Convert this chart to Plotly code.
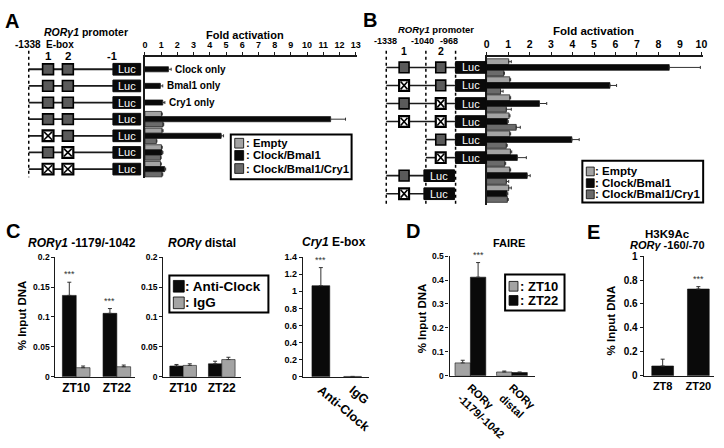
import plotly.graph_objects as go

W, H = 724, 448
FONT = "Liberation Sans, Arial, sans-serif"

# ---------------- data ----------------
# Panel A (fold activation, RORg1 promoter -1338/-1)
a_rows = ["Clock only", "Bmal1 only", "Cry1 only", "WT", "mutE1", "mutE2", "mutE1E2"]
a_only_labels = ["Clock only", "Bmal1 only", "Cry1 only"]
a_empty = [None, None, None, 1.02, 1.06, 1.02, 0.96]
a_empty_err = [0, 0, 0, 0.05, 0.06, 0.05, 0.05]
a_cb = [1.45, 0.95, 1.10, 11.45, 4.70, 1.06, 1.22]
a_cb_err = [0.17, 0.15, 0.13, 0.92, 0.15, 0.05, 0.06]
a_cbc = [None, None, None, 1.12, 0.71, 0.96, 1.06]
a_cbc_err = [0, 0, 0, 0.04, 0.03, 0.04, 0.04]
a_ebox1 = ["w", "w", "w", "w", "m", "w", "m"]
a_ebox2 = ["w", "w", "w", "w", "w", "m", "m"]

# Panel B (fold activation, deletion constructs)
b_rows = ["r1", "r2", "r3", "r4", "r5", "r6", "r7", "r8"]
b_empty = [1.03, 1.08, 1.08, 1.05, 1.08, 1.11, 1.08, 1.03]
b_empty_err = [0.12, 0.04, 0.04, 0.04, 0.04, 0.06, 0.04, 0.12]
b_cb = [8.50, 5.74, 2.46, 0.97, 3.97, 1.43, 1.89, 0.95]
b_cb_err = [1.45, 0.31, 0.34, 0.04, 0.34, 0.42, 0.14, 0.04]
b_cbc = [0.80, 0.65, 0.92, 1.38, 0.92, 0.85, 0.92, 0.97]
b_cbc_err = [0.03, 0.12, 0.23, 0.19, 0.04, 0.04, 0.11, 0.04]
b_ebox1 = ["w", "m", "w", "m", None, None, "w", "m"]
b_ebox2 = ["w", "w", "m", "m", "w", "m", None, None]
b_start = ["-1338", "-1338", "-1338", "-1338", "-1040", "-1040", "-1338", "-1338"]
b_luc_short = [False, False, False, False, False, False, True, True]

# Panel C (ChIP, % input DNA)
c_groups = ["ZT10", "ZT22"]
c1_anti = [0.136, 0.106]
c1_anti_err = [0.022, 0.008]
c1_igg = [0.0152, 0.0168]
c1_igg_err = [0.0028, 0.0028]
c1_sig = ["***", "***"]
c2_anti = [0.018, 0.0217]
c2_anti_err = [0.0026, 0.0043]
c2_igg = [0.019, 0.0288]
c2_igg_err = [0.0027, 0.0038]
c3_cats = ["Anti-Clock", "IgG"]
c3_vals = [1.065, 0.004]
c3_err = [0.212, 0.0]

# Panel D (FAIRE)
d_cats = ["RORγ<br>-1179/-1042", "RORγ<br>distal"]
d_zt10 = [0.054, 0.016]
d_zt10_err = [0.011, 0.004]
d_zt22 = [0.412, 0.0135]
d_zt22_err = [0.061, 0.0025]

# Panel E (H3K9Ac)
e_cats = ["ZT8", "ZT20"]
e_vals = [0.082, 0.725]
e_err = [0.057, 0.02]

# ---------------- styles ----------------
C_EMPTY = "#a3a3a3"
C_CB = "#0a0a0a"
C_CBC = "#6b6b6b"
C_IGG = "#a3a3a3"
BOX_FILL = "#5a5a5a"
AX = "#1a1a1a"


def X(p):
    return p / W


def Y(p):
    return 1 - p / H


fig = go.Figure()


def hbar(vals, errs, rows, color, width, offset, xa, ya):
    fig.add_trace(go.Bar(
        x=vals, y=rows, orientation="h", xaxis=xa, yaxis=ya,
        width=width, offset=offset,
        marker=dict(color=color, line=dict(color="#111", width=0.7)),
        error_x=dict(type="data", array=errs, arrayminus=[0] * len(errs),
                     symmetric=False, color="#333", thickness=1, width=1.5),
        showlegend=False, hoverinfo="skip"))


def vbar(cats, vals, errs, color, width, offset, n):
    fig.add_trace(go.Bar(
        x=cats, y=vals, xaxis=f"x{n}", yaxis=f"y{n}",
        width=width, offset=offset,
        marker=dict(color=color, line=dict(color="#111", width=0.6)),
        error_y=dict(type="data", array=errs, arrayminus=[0] * len(errs),
                     symmetric=False, color="#333", thickness=1, width=2),
        showlegend=False, hoverinfo="skip"))


# Panel A bars
A_W = 0.31
hbar(a_empty, a_empty_err, a_rows, C_EMPTY, A_W, -0.465, "x", "y")
hbar(a_cb, a_cb_err, a_rows, C_CB, A_W, -0.155, "x", "y")
hbar(a_cbc, a_cbc_err, a_rows, C_CBC, A_W, 0.155, "x", "y")

# Panel B bars
B_W = 0.32
hbar(b_empty, b_empty_err, b_rows, C_EMPTY, B_W, -0.48, "x2", "y2")
hbar(b_cb, b_cb_err, b_rows, C_CB, B_W, -0.16, "x2", "y2")
hbar(b_cbc, b_cbc_err, b_rows, C_CBC, B_W, 0.16, "x2", "y2")

# Panel C bars
C1_W = 0.34
vbar(c_groups, c1_anti, c1_anti_err, C_CB, C1_W, -C1_W, 3)
vbar(c_groups, c1_igg, c1_igg_err, C_IGG, C1_W, 0, 3)
C2_W = 0.345
vbar(c_groups, c2_anti, c2_anti_err, C_CB, C2_W, -C2_W, 4)
vbar(c_groups, c2_igg, c2_igg_err, C_IGG, C2_W, 0, 4)
C3_W = 0.56
vbar(c3_cats, c3_vals, c3_err, C_CB, C3_W, -C3_W / 2, 5)
# Panel D bars
D_W = 0.37
vbar(d_cats, d_zt10, d_zt10_err, C_IGG, D_W, -D_W, 6)
vbar(d_cats, d_zt22, d_zt22_err, C_CB, D_W, 0, 6)
# Panel E bars
E_W = 0.61
vbar(e_cats, e_vals, e_err, C_CB, E_W, -E_W / 2, 7)


def tf(size):
    return dict(family=FONT, size=size, color="black", weight="bold")


layout = dict(
    width=W, height=H, margin=dict(l=0, r=0, t=0, b=0),
    paper_bgcolor="white", plot_bgcolor="rgba(0,0,0,0)",
    barmode="overlay", showlegend=False, font=dict(family=FONT),
)

# Panel A axes
A_TOP, A_BOT, A_R = 52, 177, [6.55, -0.76]
layout["xaxis"] = dict(domain=[X(143.3), X(357)], range=[0, 13.05], side="top", anchor="y",
                       tick0=0, dtick=1, ticks="outside", ticklen=3, tickcolor=AX,
                       showline=True, linecolor=AX, linewidth=1.5, showgrid=False,
                       zeroline=False, tickfont=tf(9))
layout["yaxis"] = dict(domain=[Y(A_BOT), Y(A_TOP)], range=A_R, type="category",
                       categoryorder="array", categoryarray=a_rows, anchor="x",
                       showline=True, linecolor=AX, linewidth=1.5, showticklabels=False,
                       ticks="", showgrid=False, zeroline=False)
# Panel B axes
B_TOP, B_BOT, B_R = 52, 204, [7.6, -0.6]
layout["xaxis2"] = dict(domain=[X(488.3), X(707)], range=[0, 10.08], side="top", anchor="y2",
                        tick0=0, dtick=1, ticks="outside", ticklen=3, tickcolor=AX,
                        showline=True, linecolor=AX, linewidth=1.5, showgrid=False,
                        zeroline=False, tickfont=tf(10.5))
layout["yaxis2"] = dict(domain=[Y(B_BOT), Y(B_TOP)], range=B_R, type="category",
                        categoryorder="array", categoryarray=b_rows, anchor="x2",
                        showline=True, linecolor=AX, linewidth=1.5, showticklabels=False,
                        ticks="", showgrid=False, zeroline=False)


def vaxes(n, x0, x1, y0, y1, xr, yr, dtick, yfs, xfs, angle=0):
    layout[f"xaxis{n}"] = dict(domain=[X(x0), X(x1)], range=xr, anchor=f"y{n}", type="category",
                               showline=True, linecolor=AX, linewidth=1.3, ticks="",
                               showgrid=False, zeroline=False, tickfont=tf(xfs), tickangle=angle)
    layout[f"yaxis{n}"] = dict(domain=[Y(y1), Y(y0)], range=yr, anchor=f"x{n}", tick0=0, dtick=dtick,
                               ticks="outside", ticklen=3, tickcolor=AX, showline=True,
                               linecolor=AX, linewidth=1.3, showgrid=False, zeroline=False,
                               tickfont=tf(yfs))


vaxes(3, 53, 133, 258, 381, [-0.51, 1.44], [0, 0.2], 0.05, 8.5, 12)
vaxes(4, 162, 240, 258, 381, [-0.51, 1.49], [0, 0.2], 0.05, 8.5, 12)
vaxes(5, 303, 370, 258, 381, [-0.56, 1.53], [0, 1.4], 0.2, 9, 12.5, 40)
vaxes(6, 451, 537, 257, 380, [-0.5, 1.55], [0, 0.5], 0.1, 8.5, 11, 43)
vaxes(7, 647, 718, 257, 380, [-0.53, 1.44], [0, 1.0], 0.2, 10, 11)

shapes = []
anns = []


def text(x, y, s, size, xanchor="center", yanchor="middle", color="black", angle=0):
    anns.append(dict(x=X(x), y=Y(y), xref="paper", yref="paper", text=s, showarrow=False,
                     xanchor=xanchor, yanchor=yanchor, textangle=angle, borderpad=0,
                     font=dict(family=FONT, size=size, color=color)))


def rect(x0, y0, x1, y1, fill, lc="black", lw=1.0):
    shapes.append(dict(type="rect", xref="paper", yref="paper", x0=X(x0), x1=X(x1),
                       y0=Y(y0), y1=Y(y1), fillcolor=fill, line=dict(color=lc, width=lw)))


def line(x0, y0, x1, y1, lw=1.5, color="#1a1a1a", dash="solid"):
    shapes.append(dict(type="line", xref="paper", yref="paper", x0=X(x0), x1=X(x1),
                       y0=Y(y0), y1=Y(y1), line=dict(color=color, width=lw, dash=dash)))


def ebox(x0, x1, yc, kind, half=5.5):
    if kind == "w":
        rect(x0, yc - half, x1, yc + half, BOX_FILL, "black", 1.6)
    else:
        rect(x0, yc - half, x1, yc + half, "white", "black", 2.2)
        line(x0 + 1.5, yc - half + 1.5, x1 - 1.5, yc + half - 1.5, 1.6, "black")
        line(x0 + 1.5, yc + half - 1.5, x1 - 1.5, yc - half + 1.5, 1.6, "black")


def luc(x0, x1, yc):
    rect(x0, yc - 6, x1, yc + 6, "#0a0a0a", "#0a0a0a", 1)
    text((x0 + x1) / 2, yc, "Luc", 11, color="white")


def row_px(i, top, bot, rng):
    lo, hi = rng[1], rng[0]
    return top + (i - lo) / (hi - lo) * (bot - top)


# ---- Panel A schematic ----
text(9, 15, "<b>A</b>", 20)
text(40, 26.5, "<b><i>RORγ1</i> promoter</b>", 10.5, xanchor="left")
text(25, 39.5, "<b>-1338</b>", 10)
text(42, 39.5, "<b>E-box</b>", 10, xanchor="left")
text(46, 51.5, "<b>1</b>", 11.5)
text(66, 51.5, "<b>2</b>", 11.5)
text(110, 51, "<b>-1</b>", 11)
line(26, 46, 26, 176, 1.5, "black", "dot")
for i in range(len(a_rows)):
    yc = row_px(i, A_TOP, A_BOT, A_R)
    line(26, yc, 111, yc, 1.8)
    ebox(40, 51, yc, a_ebox1[i])
    ebox(60, 71, yc, a_ebox2[i])
    luc(111, 139, yc)
text(244, 30, "<b>Fold activation</b>", 11)
for i, lab in enumerate(a_only_labels):
    anns.append(dict(x=a_cb[i] + a_cb_err[i], y=i, xref="x", yref="y", text=f"<b>{lab}</b>",
                     showarrow=False, xanchor="left", yanchor="middle", xshift=2,
                     font=dict(family=FONT, size=10, color="black")))

# ---- Panel B schematic ----
text(371, 14, "<b>B</b>", 20)
text(437, 24.5, "<b><i>RORγ1</i> promoter</b>", 9.5)
text(386, 36, "<b>-1338</b>", 9)
text(424, 36, "<b>-1040</b>", 9)
text(450, 36, "<b>-968</b>", 9)
text(405, 46.5, "<b>1</b>", 10.5)
text(442, 46.5, "<b>2</b>", 10.5)
B_POS = {"-1338": 387, "-1040": 427, "-968": 457}
for xd in B_POS.values():
    line(xd, 46, xd, 204, 1.5, "black", "dot")
for i in range(len(b_rows)):
    yc = row_px(i, B_TOP, B_BOT, B_R)
    if b_luc_short[i]:
        lx0, lx1 = 425, 456
    else:
        lx0, lx1 = 457, 488
    line(B_POS[b_start[i]], yc, lx0, yc, 1.6)
    if b_ebox1[i]:
        ebox(400, 410, yc, b_ebox1[i])
    if b_ebox2[i]:
        ebox(437, 447, yc, b_ebox2[i])
    luc(lx0, lx1, yc)
text(596, 26, "<b>Fold activation</b>", 11.5)


def legend(x0, y0, x1, y1, items, fs, sx, sw, sh, tx):
    rect(x0, y0, x1, y1, "white", "black", 2)
    for lab, col, yc in items:
        rect(sx, yc - sh / 2, sx + sw, yc + sh / 2, col, "black", 0.8)
        text(tx, yc, f"<b>: {lab}</b>", fs, xanchor="left")


legend(230, 132, 352, 178, [("Empty", C_EMPTY, 141), ("Clock/Bmal1", C_CB, 153.5),
                            ("Clock/Bmal1/Cry1", C_CBC, 167)], 11.3, 234, 9, 10, 244)
legend(585, 159, 707, 202, [("Empty", C_EMPTY, 170), ("Clock/Bmal1", C_CB, 182),
                            ("Clock/Bmal1/Cry1", C_CBC, 193.5)], 11.5, 589, 8, 9, 597)

# ---- Panel C ----
text(10, 231, "<b>C</b>", 20)
text(80, 244, "<b><i>RORγ1</i> -1179/-1042</b>", 12)
text(201, 244, "<b><i>RORγ</i> distal</b>", 12)
text(334, 243, "<b><i>Cry1</i> E-box</b>", 12)
text(20, 318, "<b>% Input DNA</b>", 11.5, angle=-90)
legend(168, 277, 268, 315, [("Anti-Clock", C_CB, 288), ("IgG", C_IGG, 305)], 13.5, 172, 11, 12, 183)
for i, s in enumerate(c1_sig):
    anns.append(dict(x=i - C1_W / 2, y=c1_anti[i] + c1_anti_err[i], xref="x3", yref="y3",
                     text=s, showarrow=False, yanchor="bottom", yshift=1,
                     font=dict(family=FONT, size=9, color="#333")))
anns.append(dict(x=0, y=c3_vals[0] + c3_err[0], xref="x5", yref="y5", text="***",
                 showarrow=False, yanchor="bottom", yshift=1,
                 font=dict(family=FONT, size=9, color="#333")))

# ---- Panel D ----
text(414, 231, "<b>D</b>", 20)
text(511, 244, "<b>FAIRE</b>", 11)
text(423, 321, "<b>% Input DNA</b>", 11.5, angle=-90)
legend(507, 276, 567, 313, [("ZT10", C_IGG, 288), ("ZT22", C_CB, 302.5)], 13, 511, 9, 10, 521)
anns.append(dict(x=D_W / 2, y=d_zt22[0] + d_zt22_err[0], xref="x6", yref="y6", text="***",
                 showarrow=False, yanchor="bottom", yshift=1,
                 font=dict(family=FONT, size=9, color="#333")))

# ---- Panel E ----
text(596, 232, "<b>E</b>", 20)
text(671, 234, "<b>H3K9Ac</b>", 11.5)
text(671, 246, "<b><i>RORγ</i> -160/-70</b>", 11)
text(614, 323, "<b>% Input DNA</b>", 11.5, angle=-90)
anns.append(dict(x=1, y=e_vals[1] + e_err[1], xref="x7", yref="y7", text="***",
                 showarrow=False, yanchor="bottom", yshift=1,
                 font=dict(family=FONT, size=9, color="#333")))

layout["shapes"] = shapes
layout["annotations"] = anns
fig.update_layout(**layout)
fig.write_html("out.html", config={"displayModeBar": False},
               post_script="document.body.style.margin='0px';")
